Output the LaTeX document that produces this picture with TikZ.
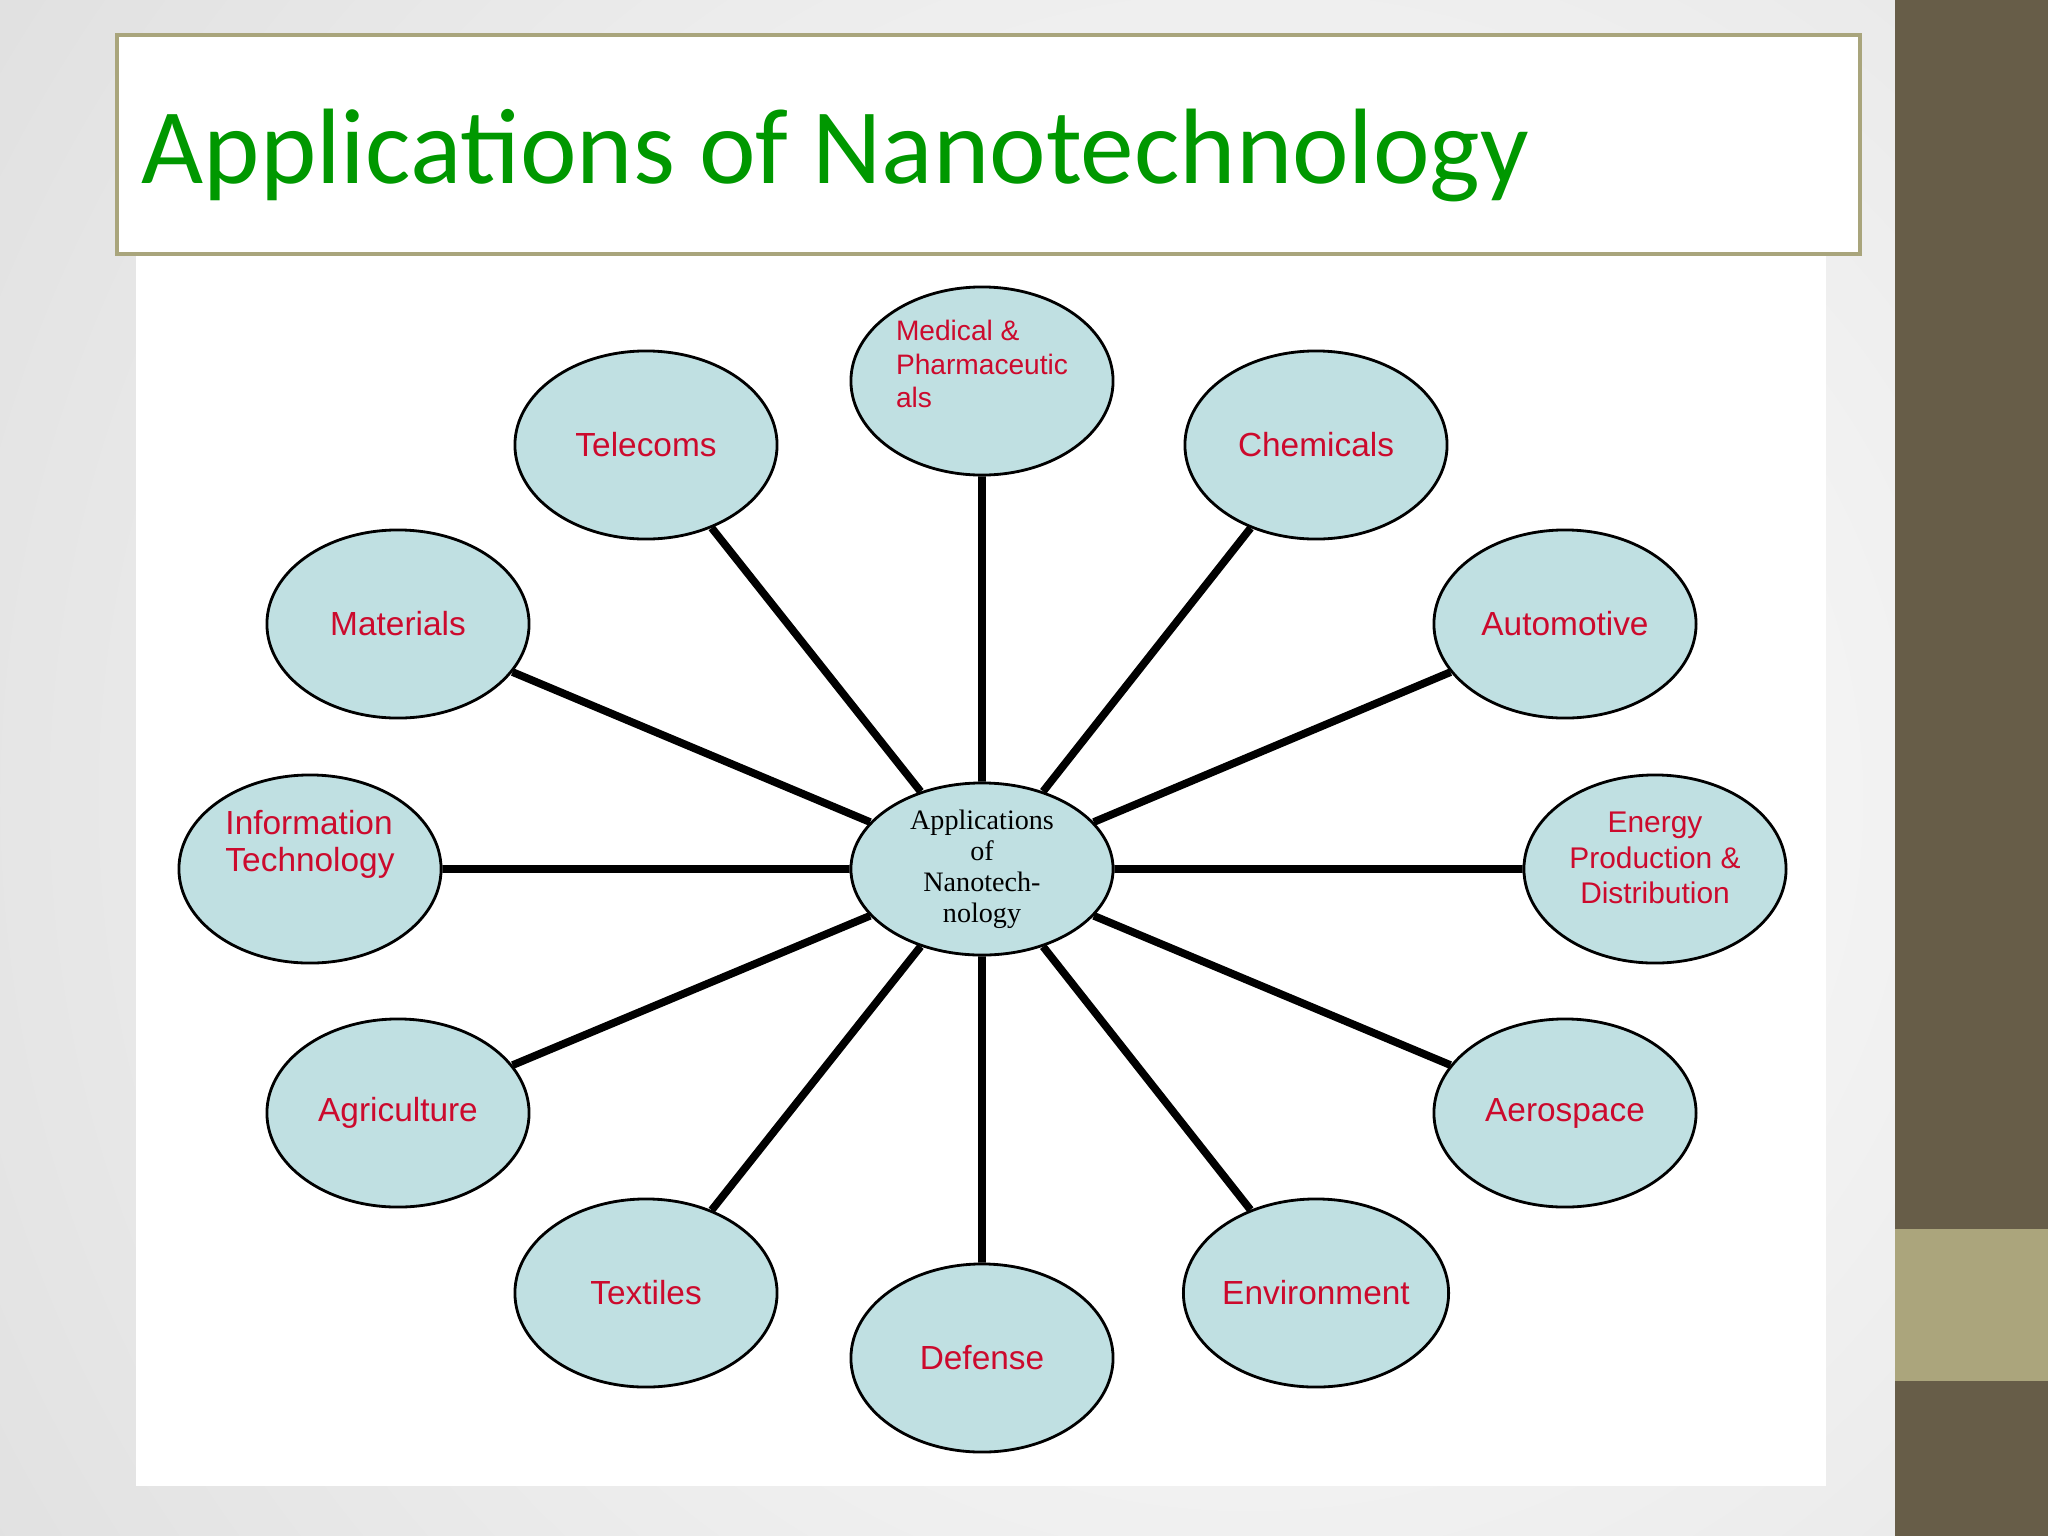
\documentclass[tikz,border=0pt]{standalone}
\usepackage{fontspec}
\setmainfont{Liberation Serif}
\setsansfont{Liberation Sans}
\newfontfamily\titlefont{Carlito}
\usetikzlibrary{shapes.geometric}

\definecolor{titlegreen}{RGB}{0,152,0}
\definecolor{boxolive}{RGB}{169,165,124}
\definecolor{banddark}{RGB}{103,93,72}
\definecolor{bandlight}{RGB}{171,165,124}
\definecolor{bubble}{RGB}{192,224,226}
\definecolor{labelred}{RGB}{204,10,45}

\begin{document}
\begin{tikzpicture}[x=0.01cm,y=-0.01cm,
	lbl/.style={text=labelred,inner sep=0pt,font=\sffamily\fontsize{9.5}{10.5}\selectfont},
	app/.style={lbl,ellipse,draw=black,line width=0.8pt,fill=bubble,minimum width=2.62cm,minimum height=1.88cm,align=center},
	hub/.style={app,minimum height=1.72cm,text=black,font=\rmfamily\fontsize{8}{8.8}\selectfont},
	spoke/.style={line width=2.2pt}]
				\pgfdeclarelayer{bg}
				\pgfsetlayers{bg,main}
				\useasboundingbox (0,0) rectangle (2048,1536);
				\begin{pgfonlayer}{bg}
					\begin{scope}
						\clip (0,0) rectangle (1895,1536);
						\fill[black!12] (0,0) rectangle (1895,1536);
						\shade[inner color=white,outer color=black!12] (1250,800) circle (1500);
					\end{scope}
					\fill[banddark] (1895,0) rectangle (2048,1536);
					\fill[bandlight] (1895,1229) rectangle (2048,1381);
					\fill[white] (136,255) rectangle (1826,1486);
				\end{pgfonlayer}
				% title frame
				\draw[boxolive,line width=1.2pt,fill=white] (117,35) rectangle (1860,254);
				\node[font=\titlefont\fontsize{30.5}{36}\selectfont,text=titlegreen,anchor=base west,inner sep=0pt] (title) at (141,183) {Applications of Nanotechnology};
				% hub and bubbles
				\node[hub] (hub) at (982,869) {Applications\\of\\Nanotech-\\nology};
				\node[app] (med) at (982,381) {};
				\node[lbl,align=left,font=\sffamily\fontsize{8}{9.5}\selectfont] (med-txt) at (982,364) {Medical \&\\Pharmaceutic\\als};
				\node[app] (tel) at (646,445) {Telecoms};
				\node[app] (chem) at (1316,445) {Chemicals};
				\node[app] (mat) at (398,624) {Materials};
				\node[app] (auto) at (1565,624) {Automotive};
				\node[app] (it) at (310,869) {};
				\node[lbl,align=left] (it-txt) at (310,844) {Information\\Technology};
				\node[app] (energy) at (1655,869) {};
				\node[lbl,align=center,font=\sffamily\fontsize{8.5}{10}\selectfont] (energy-txt) at (1655,858) {Energy\\Production \&\\Distribution};
				\node[app] (agri) at (398,1113) {Agriculture};
				\node[app] (aero) at (1565,1113) {Aerospace};
				\node[app] (tex) at (646,1293) {Textiles};
				\node[app] (env) at (1316,1293) {Environment};
				\node[app] (def) at (982,1358) {Defense};
				% spokes
				\draw[spoke] (hub)--(med) (hub)--(tel) (hub)--(chem) (hub)--(mat);
				\draw[spoke] (hub)--(auto) (hub)--(it) (hub)--(energy) (hub)--(agri);
				\draw[spoke] (hub)--(aero) (hub)--(tex) (hub)--(env) (hub)--(def);
			\end{tikzpicture}
\end{document}
